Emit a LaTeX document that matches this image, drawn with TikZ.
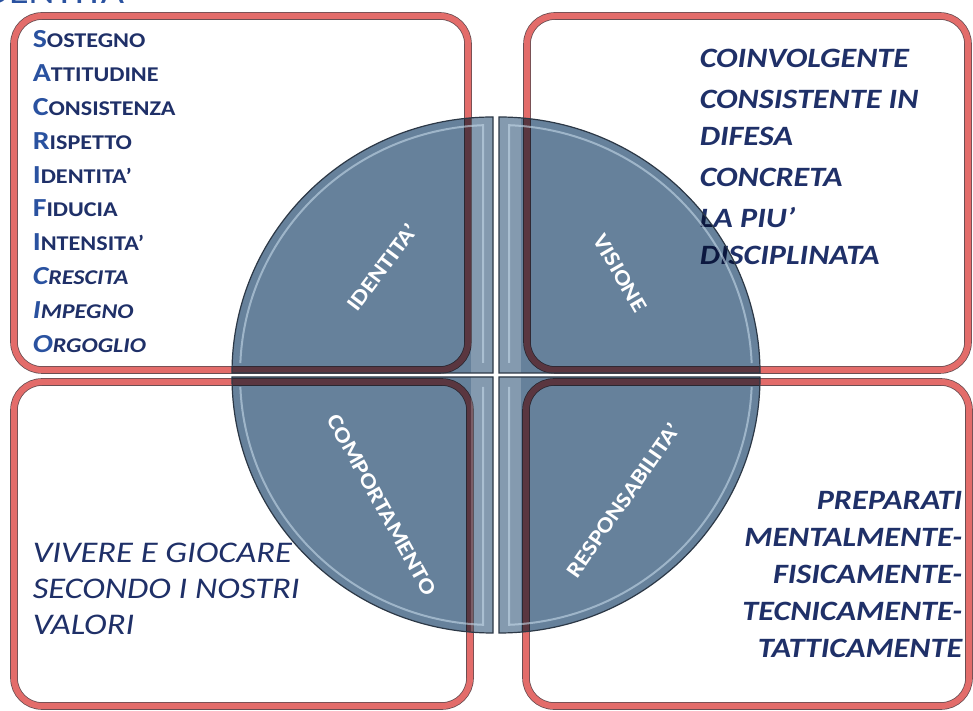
\documentclass[tikz,border=0pt]{standalone}
\usepackage{fontspec}
\setmainfont{Carlito}[FakeStretch=1.15]
\usetikzlibrary{positioning}
\definecolor{panelred}{HTML}{E36C6A}
\definecolor{paneledge}{HTML}{6B4E52}
\definecolor{slate}{HTML}{66819B}
\definecolor{slateedge}{HTML}{2C3846}
\definecolor{sheen}{HTML}{C4D8E8}
\definecolor{navy}{HTML}{1F3068}
\definecolor{capblue}{HTML}{2A52A0}

% big initial + smaller capitals
\newcommand\capword[2]{{\fontsize{26}{33.8}\selectfont\color{capblue}#1}#2}
% one quarter of the disc, #1/#2 = side signs
\newcommand\quarter[2]{(hub) ++(#1*3,#2*2) -- ++(0,#2*256)
  arc[start angle=90*#2, end angle=#2*(90-90*#1), x radius=261, y radius=256] -- cycle}

\tikzset{
  panel/.style={draw=paneledge, double=panelred, double distance=6pt,
    line width=.8pt, rounded corners=28pt, fill=white, inner sep=0pt},
  paneltext/.style={inner sep=0pt, align=left, text=navy},
  seglabel/.style={text=white, font=\fontsize{22}{22}\selectfont\bfseries, inner sep=0pt}
}

\begin{document}
\begin{tikzpicture}[x=1pt, y=1pt]
  \useasboundingbox (0,0) rectangle (973,711);
  \clip (0,0) rectangle (973,711);

  \node[anchor=base west, inner sep=0pt, text=capblue,
    font=\fontsize{35}{35}\selectfont] (title) at (-26,707) {IDENTITA};

  % the four panels
  \node[panel, minimum width=454pt, minimum height=354pt] (idbox) at (241,518) {};
  \node[panel, minimum width=441pt, minimum height=354pt] (visbox) at (747.5,518) {};
  \node[panel, minimum width=456pt, minimum height=324pt] (combox) at (242,167) {};
  \node[panel, minimum width=443pt, minimum height=324pt] (resbox) at (747.5,167) {};

  \node[paneltext, font=\fontsize{21}{33.8}\selectfont\bfseries,
    below right=15pt and 19pt of idbox.north west] (idlist) {%
    \capword{S}{OSTEGNO}\\
    \capword{A}{TTITUDINE}\\
    \capword{C}{ONSISTENZA}\\
    \capword{R}{ISPETTO}\\
    \capword{I}{DENTITA’}\\
    \capword{F}{IDUCIA}\\
    \capword{I}{NTENSITA’}\\
    {\itshape\capword{C}{RESCITA}}\\
    {\itshape\capword{I}{MPEGNO}}\\
    {\itshape\capword{O}{RGOGLIO}}};

  \node[paneltext, font=\fontsize{28}{37}\selectfont\bfseries\itshape,
    below right=33pt and 173pt of visbox.north west] (vistext)
    {COINVOLGENTE\\[4pt] CONSISTENTE IN\\ DIFESA\\[4pt] CONCRETA\\[4pt] LA PIU’\\ DISCIPLINATA};

  \node[paneltext, font=\fontsize{30}{36}\selectfont\itshape,
    below right=161.5pt and 19pt of combox.north west] (comtext)
    {VIVERE E GIOCARE\\ SECONDO I NOSTRI\\ VALORI};

  \node[paneltext, align=right, font=\fontsize{28}{37}\selectfont\bfseries\itshape,
    below left=110pt and 7pt of resbox.north east] (restext)
    {PREPARATI\\ MENTALMENTE-\\ FISICAMENTE-\\ TECNICAMENTE-\\ TATTICAMENTE};

  % disc split in four
  \coordinate (hub) at (496,336);
  \foreach \sx/\sy/\ta/\tb in {-1/1/92.3/177.7, 1/1/87.7/2.3,
                               -1/-1/267.7/182.3, 1/-1/272.3/357.7} {
    \begin{scope}[blend mode=multiply]
      \fill[slate] \quarter{\sx}{\sy};
    \end{scope}
    \begin{scope}
      \clip \quarter{\sx}{\sy};
      \fill[white, opacity=.2] (hub) ++(\sx*3,0) rectangle ++(\sx*22,\sy*270);
    \end{scope}
    \draw[sheen, line width=2pt, opacity=.6] (hub) ++(\sx*13,\sy*12) -- ++(0,\sy*237.8)
      arc[start angle=\ta, end angle=\tb, x radius=253, y radius=248];
    \draw[slateedge, line width=1.2pt] \quarter{\sx}{\sy};
  }

  \node[seglabel, rotate=53] (idlabel) at (382,444) {IDENTITA’};
  \node[seglabel, rotate=-60] (vislabel) at (620,438) {VISIONE};
  \node[seglabel, rotate=-61] (comlabel) at (382,206) {COMPORTAMENTO};
  \node[seglabel, rotate=55] (reslabel) at (623,211) {RESPONSABILITA’};
\end{tikzpicture}
\end{document}
